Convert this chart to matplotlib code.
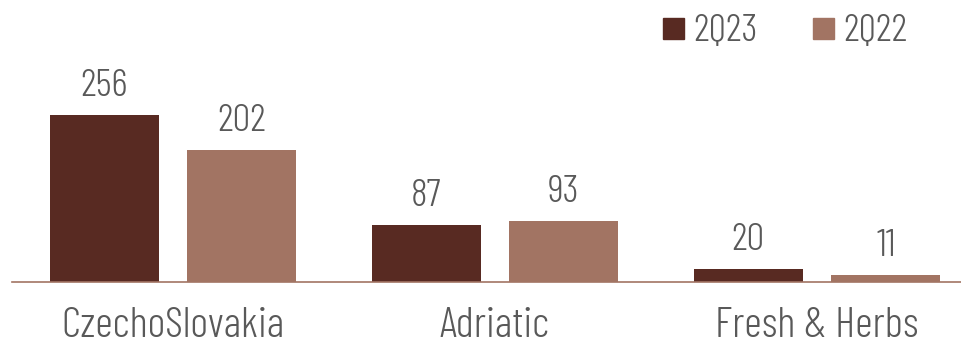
import matplotlib.pyplot as plt
import numpy as np
from matplotlib.patches import Rectangle

# Chart data
categories = ['CzechoSlovakia', 'Adriatic', 'Fresh & Herbs']
series_names = ['2Q23', '2Q22']
values_2q23 = [256, 87, 20]
values_2q22 = [202, 93, 11]

dark = '#582A22'
light = '#A27463'
grey = '#595959'

plt.rcParams['font.family'] = ['Barlow Condensed', 'Fira Sans Condensed', 'DejaVu Sans']
plt.rcParams['font.weight'] = 300

fig = plt.figure(figsize=(9.62, 3.47), dpi=100)
ax = fig.add_axes([12 / 962, 65 / 347, 950 / 962, 282 / 347])

x = np.arange(len(categories))
width = 0.338
offset = 0.214
bars1 = ax.bar(x - offset, values_2q23, width, color=dark)
bars2 = ax.bar(x + offset, values_2q22, width, color=light)

# value labels above bars
for bars in (bars1, bars2):
    for b in bars:
        ax.text(b.get_x() + b.get_width() / 2, b.get_height() + 17, str(int(b.get_height())),
                ha='center', va='bottom', fontsize=28.5, color=grey)

ax.set_xlim(-0.5, -0.5 + 950 / 322)
ax.set_ylim(0, 432)
ax.set_xticks(x)
ax.set_xticklabels(categories, fontsize=31, color=grey)
ax.tick_params(axis='x', length=0, pad=18)
ax.set_yticks([])
for side in ['top', 'right', 'left']:
    ax.spines[side].set_visible(False)
ax.spines['bottom'].set_color(light)
ax.spines['bottom'].set_linewidth(1.2)

# legend drawn by hand: small squares + labels
W, H = 962, 347
for color, name, sx in zip([dark, light], series_names, [663, 813]):
    fig.patches.append(Rectangle((sx / W, 1 - 39 / H), 21 / W, 21 / H,
                                 transform=fig.transFigure, color=color))
    fig.text((sx + 30) / W, 1 - 41 / H, name, fontsize=28.5, color=grey,
             ha='left', va='baseline')

fig.savefig('out.png', dpi=100)
